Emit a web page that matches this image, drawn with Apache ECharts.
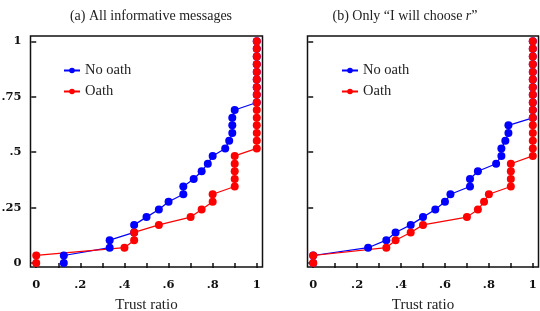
<!DOCTYPE html>
<html>
<head>
<meta charset="utf-8">
<script src="https://cdn.jsdelivr.net/npm/echarts@6/dist/echarts.min.js"></script>
<style>
  html, body { margin: 0; padding: 0; background: #fff; }
  #chart { width: 540px; height: 311px; }
</style>
</head>
<body>
<div id="chart"></div>
<script>
// cumulative share for each of the 30 subjects (step)
const cumShare = [0, .034, .069, .103, .138, .172, .207, .241, .276, .31, .345, .379, .414, .448, .483,
  .517, .552, .586, .621, .655, .69, .724, .759, .793, .828, .862, .897, .931, .966, 1];

// (a) all informative messages
const noOathAllX = [.125, .125, .333, .333, .444, .444, .5, .556, .6, .667, .667, .714, .75, .778, .8,
  .857, .875, .889, .889, .889, .9, 1, 1, 1, 1, 1, 1, 1, 1, 1];
const oathAllX = [0, 0, .4, .444, .444, .556, .7, .75, .8, .8, .9, .9, .9, .9, .9,
  1, 1, 1, 1, 1, 1, 1, 1, 1, 1, 1, 1, 1, 1, 1];

// (b) only "I will choose r"
const noOathRX = [0, 0, .25, .333, .375, .444, .5, .556, .6, .625, .714, .714, .75, .833, .857,
  .857, .875, .889, .889, 1, 1, 1, 1, 1, 1, 1, 1, 1, 1, 1];
const oathRX = [0, 0, .333, .375, .444, .5, .7, .75, .778, .8, .9, .9, .9, .9, 1,
  1, 1, 1, 1, 1, 1, 1, 1, 1, 1, 1, 1, 1, 1, 1];

const xTicks = [0, .1, .2, .3, .4, .5, .6, .7, .8, .9, 1];
const xLabels = [0, .2, .4, .6, .8, 1];
const yTicks = [0, .25, .5, .75, 1];

const serif = '"Liberation Serif", "DejaVu Serif", serif';
const fmt = v => (v === 0 || v === 1) ? String(v) : String(v).replace(/^0/, '');

const pairs = xs => xs.map((x, i) => [x, cumShare[i]]);

function xAxis(gridIndex) {
  return {
    type: 'value', gridIndex, min: -0.026, max: 1.026,
    name: 'Trust ratio', nameLocation: 'middle', nameGap: 31,
    nameTextStyle: { fontFamily: serif, fontSize: 15, color: '#222' },
    splitLine: { show: false },
    axisLine: { show: false },
    axisTick: { show: true, customValues: xTicks, length: 5, inside: false,
      lineStyle: { color: '#111', width: 1.5 } },
    axisLabel: { customValues: xLabels, formatter: fmt, margin: 12,
      fontFamily: '"DejaVu Serif", serif', fontWeight: 'bold', fontSize: 11.5, color: '#111' }
  };
}

function yAxis(gridIndex, labels) {
  return {
    type: 'value', gridIndex, min: -0.018, max: 1.024,
    splitLine: { show: false },
    axisLine: { show: false },
    axisTick: { show: true, customValues: yTicks, length: 5,
      lineStyle: { color: '#111', width: 1.5 } },
    axisLabel: { show: labels, customValues: yTicks, formatter: fmt, margin: 9,
      fontFamily: '"DejaVu Serif", serif', fontWeight: 'bold', fontSize: 11.5, color: '#111' }
  };
}

function series(name, color, xi, xs) {
  return {
    name, type: 'line', xAxisIndex: xi, yAxisIndex: xi,
    data: pairs(xs),
    symbol: 'circle', symbolSize: 8, showSymbol: true,
    lineStyle: { color, width: 1.2 },
    itemStyle: { color },
    animation: false
  };
}

function legend(left) {
  return {
    orient: 'vertical', left, top: 63, itemGap: 6, padding: 0,
    itemWidth: 16, itemHeight: 7,
    data: ['No oath', 'Oath'],
    textStyle: { fontFamily: serif, fontSize: 14.5, color: '#222' }
  };
}

const chart = echarts.init(document.getElementById('chart'), null, { renderer: 'canvas' });
chart.setOption({
  animation: false,
  title: [
    { text: '(a) All informative messages', left: 146, top: 4, textAlign: 'center',
      textStyle: { fontFamily: serif, fontSize: 14, fontWeight: 'normal', color: '#222' } },
    { text: '(b) Only \u201cI will choose {i|r}\u201d', left: 400, top: 4, textAlign: 'center',
      textStyle: { fontFamily: serif, fontSize: 14, fontWeight: 'normal', color: '#222',
        rich: { i: { fontFamily: serif, fontSize: 14, fontStyle: 'italic', color: '#222' } } } }
  ],
  legend: [legend(63), legend(341)],
  grid: [
    { left: 30.5, top: 36, width: 232, height: 231, show: true, borderColor: '#111', borderWidth: 1.5,
      outerBoundsMode: 'none', containLabel: false },
    { left: 307.5, top: 36, width: 231, height: 231, show: true, borderColor: '#111', borderWidth: 1.5,
      outerBoundsMode: 'none', containLabel: false }
  ],
  xAxis: [xAxis(0), xAxis(1)],
  yAxis: [yAxis(0, true), yAxis(1, false)],
  series: [
    series('No oath', '#0000ff', 0, noOathAllX),
    series('Oath', '#ff0000', 0, oathAllX),
    series('No oath', '#0000ff', 1, noOathRX),
    series('Oath', '#ff0000', 1, oathRX)
  ]
});
</script>
</body>
</html>
